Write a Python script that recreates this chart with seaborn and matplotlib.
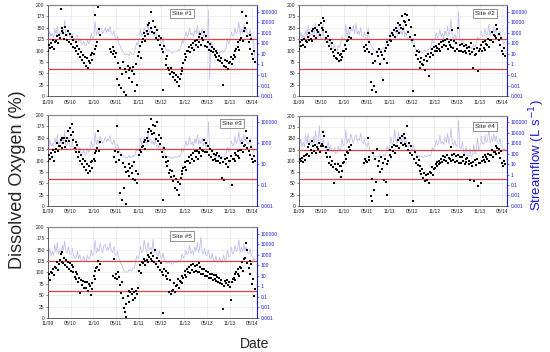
import numpy as np
import pandas as pd
import seaborn as sns
import matplotlib.pyplot as plt
import matplotlib.dates as mdates
from matplotlib.ticker import FixedLocator, NullLocator

nan = np.nan

# one row per month, Nov 2009 .. May 2014
months = pd.date_range('2009-11-01', '2014-05-01', freq='MS')
do_days = [4, 11, 18, 25]      # four DO readings per month
q_days = [5, 15, 25]           # three streamflow readings per month

# dissolved oxygen (%)
do_site1 = [
    [100, 112, 105, 116], [108, 122, 104, 118], [120, 131, 116, 135], [128, 190, 142, 150],
    [138, 126, 152, 133], [124, 142, 118, 136], [115, 130, 108, 124], [105, 118, 98, 110],
    [92, 104, 86, 96], [80, 90, 72, 86], [66, 84, 62, 78], [72, 90, 80, 95],
    [92, 178, 104, 110], [118, 195, 148, 135], [nan, nan, nan, nan], [nan, nan, nan, nan],
    [nan, nan, 104, 96], [108, 92, 100, 86], [95, 38, 72, 24], [62, 18, 48, 75],
    [8, 60, 2, 52], [66, 58, 40, 62], [55, 32, 63, 48], [12, 70, 25, 88],
    [96, 110, 84, 118], [126, 138, 120, 132], [142, 155, 136, 160], [150, 185, 140, 165],
    [138, 152, 128, 146], [122, 132, 112, 128], [104, 14, 96, 110], [82, 68, 88, 62],
    [58, 48, 62, 52], [42, 50, 36, 46], [30, 42, 22, 38], [48, 62, 55, 72],
    [80, 92, 86, 98], [100, 108, 96, 112], [106, 116, 102, 120], [112, 124, 108, 130],
    [118, 137, 112, 128], [124, 141, 110, 132], [108, 118, 102, 114], [100, 108, 96, 104],
    [90, 98, 86, 94], [80, 88, 76, 84], [72, 25, 66, 80], [64, 78, 60, 72],
    [74, 86, 70, 82], [90, 100, 86, 104], [108, 118, 102, 124], [128, 185, 120, 142],
    [150, 176, 132, 160], [118, 134, 104, 126], [92, 82, 98, 74],
]
do_site2 = [
    [104, 118, 110, 122], [112, 126, 108, 120], [118, 130, 122, 138], [126, 142, 120, 148],
    [132, 150, 128, 145], [140, 155, 135, 160], [150, 172, 145, 165], [128, 140, 118, 132],
    [110, 122, 104, 116], [96, 88, 102, 84], [82, 94, 76, 90], [80, 92, 86, 100],
    [98, 112, 104, 120], [122, 130, 150, 128], [nan, nan, nan, nan], [nan, nan, nan, nan],
    [nan, nan, nan, nan], [nan, 108, 98, 112], [104, 138, 96, 118], [30, 92, 14, 72],
    [22, 78, 10, 96], [88, 104, 70, 96], [90, 36, 82, 100], [106, 118, 72, 112],
    [124, 132, 120, 138], [135, 145, 130, 150], [142, 160, 138, 155], [150, 175, 148, 165],
    [162, 180, 155, 178], [140, 168, 130, 152], [122, 12, 110, 135], [90, 100, 82, 96],
    [75, 62, 84, 70], [68, 80, 58, 88], [76, 92, 45, 86], [95, 104, 90, 108],
    [100, 110, 98, 106], [104, 114, 100, 118], [108, 120, 112, 124], [110, 125, 104, 118],
    [112, 124, 108, 146], [106, 120, 100, 116], [104, 150, 98, 112], [100, 114, 96, 110],
    [98, 112, 94, 106], [100, 108, 92, 116], [96, 62, 104, 90], [92, 106, 55, 100],
    [104, 112, 98, 118], [106, 120, 102, 115], [112, 126, 108, 122], [124, 140, 118, 135],
    [132, 156, 128, 148], [122, 136, 112, 128], [100, 92, 106, 88],
]
do_site3 = [
    [98, 112, 104, 116], [108, 124, 100, 118], [126, 138, 120, 132], [132, 146, 128, 150],
    [138, 150, 130, 144], [150, 165, 142, 172], [156, 180, 145, 162], [128, 140, 118, 134],
    [108, 118, 100, 112], [92, 104, 86, 98], [80, 92, 72, 88], [76, 96, 84, 100],
    [104, 116, 98, 122], [128, 165, 120, 140], [nan, nan, nan, nan], [nan, nan, nan, nan],
    [nan, nan, nan, nan], [nan, nan, 108, 122], [96, 175, 118, 102], [28, 112, 12, 95],
    [40, 86, 4, 74], [78, 92, 66, 84], [72, 88, 60, 96], [58, 76, 50, 70],
    [112, 124, 118, 130], [132, 140, 126, 145], [150, 162, 144, 170], [165, 191, 158, 178],
    [160, 175, 148, 185], [142, 156, 136, 150], [118, 12, 108, 128], [96, 108, 88, 100],
    [72, 80, 64, 76], [54, 66, 40, 60], [35, 52, 25, 48], [62, 76, 70, 84],
    [86, 96, 80, 100], [98, 108, 94, 112], [104, 116, 100, 120], [108, 122, 104, 118],
    [116, 128, 110, 124], [122, 146, 118, 138], [118, 132, 112, 126], [108, 120, 102, 114],
    [104, 112, 98, 116], [100, 110, 94, 106], [62, 96, 56, 104], [92, 106, 86, 100],
    [98, 110, 45, 104], [104, 116, 100, 112], [110, 120, 106, 124], [124, 138, 118, 132],
    [134, 165, 128, 150], [120, 142, 112, 130], [104, 96, 110, 100],
]
do_site4 = [
    [96, 104, 100, 106], [98, 110, 102, 114], [116, 130, 110, 138], [124, 145, 118, 132],
    [122, 136, 118, 130], [126, 140, 120, 132], [138, 165, 132, 155], [118, 130, 108, 124],
    [96, 108, 90, 100], [86, 50, 92, 82], [80, 92, 76, 88], [65, 88, 78, 96],
    [98, 112, 104, 120], [118, 130, 124, 135], [nan, nan, nan, nan], [nan, nan, nan, nan],
    [nan, nan, nan, nan], [nan, 96, 104, 100], [98, 150, 102, 108], [22, 60, 12, 118],
    [35, 104, 54, 126], [88, 100, 76, 108], [82, 96, 58, 104], [52, 92, 25, 100],
    [112, 124, 108, 130], [122, 136, 118, 132], [132, 146, 128, 150], [140, 155, 135, 160],
    [138, 150, 132, 178], [124, 140, 118, 134], [112, 12, 104, 120], [96, 108, 90, 102],
    [78, 88, 70, 82], [62, 74, 55, 68], [58, 70, 50, 76], [74, 86, 68, 82],
    [84, 94, 88, 98], [92, 100, 96, 104], [98, 110, 102, 108], [100, 112, 96, 106],
    [104, 130, 100, 114], [102, 116, 98, 110], [100, 112, 96, 108], [96, 108, 100, 112],
    [94, 104, 98, 106], [92, 100, 58, 96], [88, 98, 55, 102], [90, 104, 45, 96],
    [96, 50, 100, 108], [102, 112, 98, 108], [104, 116, 100, 112], [112, 124, 108, 120],
    [120, 132, 116, 128], [118, 126, 106, 122], [96, 88, 100, 92],
]
do_site5 = [
    [88, 96, 84, 100], [98, 108, 94, 112], [110, 122, 106, 118], [128, 140, 124, 145],
    [120, 132, 116, 128], [112, 124, 108, 120], [104, 116, 100, 112], [90, 102, 85, 96],
    [78, 88, 55, 84], [72, 82, 66, 78], [66, 78, 60, 74], [70, 50, 76, 64],
    [92, 104, 86, 110], [112, 125, 106, 118], [nan, nan, nan, nan], [nan, nan, nan, nan],
    [nan, nan, nan, nan], [nan, 92, 130, 88], [96, 86, 100, 90], [72, 54, 80, 44],
    [22, 12, 30, 2], [48, 60, 36, 56], [52, 64, 40, 58], [44, 60, 52, 66],
    [104, 116, 98, 122], [120, 130, 116, 126], [128, 138, 122, 134], [130, 142, 126, 136],
    [124, 150, 118, 132], [112, 126, 106, 120], [100, 10, 94, 108], [92, 104, 86, 98],
    [56, 84, 52, 60], [62, 76, 58, 70], [72, 86, 66, 82], [80, 92, 76, 88],
    [94, 104, 90, 108], [102, 112, 98, 116], [106, 118, 102, 114], [104, 116, 100, 120],
    [100, 112, 96, 108], [96, 108, 92, 104], [92, 100, 88, 96], [88, 96, 84, 94],
    [86, 94, 82, 90], [80, 88, 76, 84], [74, 20, 70, 82], [76, 84, 72, 80],
    [68, 40, 78, 86], [88, 96, 84, 100], [96, 108, 92, 112], [110, 124, 104, 130],
    [132, 165, 120, 150], [110, 126, 96, 118], [74, 86, 48, 64],
]

# streamflow (L/s)
q_site1 = [
    [300, 1500, 400], [800, 350, 2500], [600, 4000, 500], [1200, 700, 3000], [900, 15000, 600],
    [500, 2000, 400], [350, 800, 250], [200, 150, 600], [120, 300, 100], [80, 150, 60],
    [60, 200, 90], [150, 900, 300], [400, 12000, 600], [1500, 700, 3000], [2000, 800, 1500],
    [3000, 1000, 2500], [1200, 4000, 900], [600, 1500, 400], [200, 500, 100], [60, 30, 20],
    [12, 8, 10], [9, 6, 15], [10, 8, 12], [30, 120, 60], [300, 2000, 500],
    [800, 3000, 1500], [600, 8000, 1000], [2000, 700, 1200], [500, 1500, 300], [200, 600, 150],
    [100, 400, 60], [30, 20, 25], [15, 18, 12], [14, 20, 16], [18, 25, 20],
    [40, 200, 100], [300, 1200, 400], [700, 3000, 600], [1000, 400, 2000], [800, 5000, 600],
    [1500, 600, 2500], [400, 1000, 300], [600, 140000, 0.04], [150, 60, 40], [25, 15, 20],
    [15, 12, 18], [20, 15, 25], [40, 300, 80], [200, 1200, 500], [600, 3000, 800],
    [1500, 10000, 700], [2500, 900, 6000], [1000, 3000, 800], [600, 2000, 400], [250, 100, 2],
]
q_site2 = [
    [250, 1200, 300], [600, 250, 2000], [400, 5000, 350], [1000, 500, 3000], [700, 8000, 500],
    [400, 1500, 300], [250, 6000, 200], [150, 100, 300], [60, 150, 40], [30, 80, 25],
    [20, 60, 40], [100, 500, 200], [300, 6000, 400], [2000, 600, 2500], [1500, 5000, 800],
    [8000, 700, 1500], [600, 3000, 500], [400, 1200, 300], [200, 3000, 150], [80, 40, 30],
    [20, 15, 25], [15, 30, 20], [25, 40, 30], [60, 300, 150], [250, 1500, 400],
    [600, 2500, 1000], [500, 6000, 800], [1500, 600, 5000], [400, 1200, 300], [200, 500, 150],
    [100, 300, 50], [25, 20, 30], [15, 20, 12], [18, 25, 15], [20, 30, 25],
    [60, 200, 100], [250, 1000, 350], [500, 2000, 400], [800, 300, 1500], [600, 4000, 500],
    [1000, 20000, 400], [300, 800, 250], [500, 100000, 200], [150, 300, 100], [80, 50, 60],
    [40, 60, 30], [50, 80, 40], [100, 400, 200], [300, 1500, 400], [500, 2500, 600],
    [800, 6000, 500], [1500, 700, 4000], [900, 2500, 600], [500, 1500, 300], [200, 80, 150],
]
q_site3 = [
    [300, 2000, 500], [900, 400, 3000], [700, 6000, 600], [1500, 800, 4000], [1000, 12000, 700],
    [600, 2500, 500], [400, 1500, 300], [250, 200, 800], [150, 400, 120], [100, 200, 80],
    [90, 300, 120], [200, 1500, 400], [500, 10000, 700], [2000, 800, 4000], [1800, 900, 1500],
    [3500, 1200, 2500], [1500, 5000, 1000], [700, 2000, 500], [300, 800, 200], [120, 80, 60],
    [50, 40, 45], [35, 60, 40], [40, 70, 50], [80, 300, 150], [400, 2500, 600],
    [900, 4000, 1500], [700, 9000, 1200], [2500, 800, 1500], [600, 2000, 400], [300, 800, 200],
    [150, 500, 100], [60, 45, 50], [40, 45, 35], [35, 50, 40], [40, 60, 45],
    [80, 300, 150], [400, 1500, 500], [800, 4000, 700], [1200, 500, 2500], [900, 6000, 700],
    [1800, 800, 3000], [500, 1200, 400], [700, 100000, 300], [200, 100, 80], [50, 40, 45],
    [40, 35, 50], [45, 40, 60], [90, 400, 150], [300, 1500, 600], [700, 4000, 900],
    [1800, 12000, 800], [3000, 1000, 7000], [1200, 3500, 900], [700, 2500, 500], [300, 150, 200],
]
q_site4 = [
    [400, 2500, 500], [1200, 500, 6000], [900, 8000, 700], [2000, 900, 5000], [1000, 15000, 800],
    [700, 50000, 600], [500, 3000, 400], [300, 250, 1500], [200, 600, 150], [150, 400, 100],
    [120, 500, 200], [300, 3000, 600], [800, 20000, 1000], [3000, 1200, 8000], [2500, 1000, 4000],
    [6000, 1500, 3000], [2000, 9000, 1500], [900, 3000, 700], [400, 1500, 300], [150, 100, 80],
    [60, 50, 55], [45, 80, 50], [50, 90, 60], [100, 500, 200], [600, 4000, 800],
    [1200, 20000, 2000], [1000, 12000, 1500], [3000, 1000, 6000], [800, 2500, 600], [400, 1200, 300],
    [200, 700, 150], [80, 60, 70], [50, 60, 45], [45, 70, 55], [50, 80, 60],
    [100, 400, 200], [500, 2000, 700], [1000, 6000, 900], [1500, 700, 4000], [1200, 9000, 900],
    [2500, 30000, 1000], [700, 2000, 500], [900, 150000, 400], [300, 1500, 150], [80, 500, 70],
    [60, 300, 50], [70, 800, 90], [150, 3000, 250], [400, 5000, 800], [900, 6000, 1200],
    [2000, 30000, 1000], [4000, 1500, 8000], [1500, 5000, 1200], [900, 3000, 700], [400, 200, 300],
]
q_site5 = [
    [500, 4000, 800], [2000, 900, 10000], [1500, 15000, 1200], [3000, 1500, 8000], [2500, 20000, 1800],
    [1500, 6000, 1200], [1000, 4000, 800], [600, 500, 2000], [400, 1000, 300], [300, 700, 250],
    [250, 900, 400], [500, 3000, 900], [1200, 25000, 1500], [4000, 2000, 12000], [3500, 1500, 8000],
    [10000, 2500, 5000], [3000, 15000, 2500], [1500, 6000, 1000], [800, 2000, 500], [200, 120, 60],
    [30, 20, 25], [20, 40, 30], [30, 60, 50], [150, 800, 400], [1000, 6000, 1500],
    [2500, 25000, 4000], [2000, 15000, 3000], [5000, 2000, 30000], [1500, 4000, 1000], [800, 2500, 600],
    [400, 1500, 300], [200, 150, 250], [150, 200, 120], [150, 250, 180], [200, 300, 250],
    [300, 1200, 500], [800, 3000, 1000], [1500, 8000, 1200], [2500, 1000, 6000], [2000, 15000, 1500],
    [4000, 50000, 2000], [1200, 4000, 900], [800, 3000, 500], [400, 1500, 300], [250, 800, 200],
    [200, 600, 180], [220, 1000, 250], [400, 3000, 600], [800, 5000, 1200], [1500, 8000, 2000],
    [3000, 25000, 1500], [5000, 2000, 10000], [2000, 6000, 1500], [1200, 4000, 900], [600, 300, 500],
]

site_names = ['Site #1', 'Site #2', 'Site #3', 'Site #4', 'Site #5']
do_all = [do_site1, do_site2, do_site3, do_site4, do_site5]
q_all = [q_site1, q_site2, q_site3, q_site4, q_site5]

do_dates = [m + pd.Timedelta(days=d - 1) for m in months for d in do_days]
q_dates = [m + pd.Timedelta(days=d - 1) for m in months for d in q_days]
date_ticks = pd.date_range('2009-11-01', '2014-05-01', freq='6MS')

q_ticks_full = [0.001, 0.01, 0.1, 1, 10, 100, 1000, 10000, 100000]
q_ticks_half = [0.001, 0.1, 10, 1000, 100000]

sns.set_style('white')
plt.rcParams['font.family'] = ['Liberation Sans', 'DejaVu Sans']

fig = plt.figure(figsize=(5.5, 3.52), dpi=100)

# panel rectangles in figure fraction (left, bottom, width, height)
rects = [
    (0.0873, 0.727, 0.380, 0.259),
    (0.5436, 0.727, 0.378, 0.259),
    (0.0873, 0.415, 0.380, 0.258),
    (0.5436, 0.415, 0.378, 0.256),
    (0.0873, 0.097, 0.380, 0.258),
]
label_pos = [(0.64, 0.905), (0.894, 0.905), (0.88, 0.905), (0.894, 0.88), (0.64, 0.9)]
blue = '#1a1ad0'
red = '#dd4444'

for i in range(5):
    ax = fig.add_axes(rects[i])
    tw = ax.twinx()

    sns.lineplot(x=q_dates, y=np.array(q_all[i], dtype=float).ravel(), ax=tw,
                 color='#8c8ce0', lw=0.6, alpha=0.55)
    tw.set_yscale('log')
    tw.set_ylim(0.001, 4.3e5)

    sns.scatterplot(x=do_dates, y=np.array(do_all[i], dtype=float).ravel(), ax=ax,
                    color='black', s=4.5, marker='s', linewidth=0, zorder=4)
    ax.axhline(125, color=red, lw=0.9, zorder=3)
    ax.axhline(60, color=red, lw=0.9, zorder=3)

    ax.set_zorder(tw.get_zorder() + 1)
    ax.patch.set_visible(False)

    ax.set_xlim(pd.Timestamp('2009-11-01'), pd.Timestamp('2014-06-10'))
    ax.set_ylim(0, 200)
    ax.set_yticks(range(0, 201, 25))
    ax.set_xticks(date_ticks)
    ax.xaxis.set_major_formatter(mdates.DateFormatter('%m/%y'))
    ax.grid(True, color='#e4e4e4', lw=0.4)
    ax.set_xlabel('')
    ax.set_ylabel('')
    ax.tick_params(labelsize=3.6, length=1.5, width=0.4, pad=1)

    ticks = q_ticks_half if i == 2 else q_ticks_full
    tw.yaxis.set_major_locator(FixedLocator(ticks))
    tw.yaxis.set_minor_locator(NullLocator())
    tw.set_yticklabels([f'{t:g}' if t < 1 else f'{int(t)}' for t in ticks])
    tw.tick_params(labelsize=3.6, length=1.5, width=0.4, pad=1, colors=blue)
    tw.set_ylabel('')

    for s in ['left', 'bottom']:
        ax.spines[s].set_color('#444444')
        ax.spines[s].set_linewidth(0.6)
    ax.spines['top'].set_color('#888888')
    ax.spines['top'].set_linewidth(0.9)
    ax.spines['right'].set_visible(False)
    tw.spines['right'].set_color(blue)
    tw.spines['right'].set_linewidth(0.8)
    for s in ['left', 'top', 'bottom']:
        tw.spines[s].set_visible(False)

    lx, ly = label_pos[i]
    ax.text(lx, ly, site_names[i], transform=ax.transAxes, fontsize=4.6,
            ha='center', va='center', zorder=5,
            bbox=dict(boxstyle='square,pad=0.35', fc='white', ec='#666666', lw=0.5))

fig.text(0.031, 0.49, 'Dissolved Oxygen (%)', rotation=90, fontsize=13,
         ha='center', va='center')
fig.text(0.977, 0.56, 'Streamflow (L s$^{-1}$)', rotation=90, fontsize=9.5,
         ha='center', va='center', color=blue)
fig.text(0.462, 0.024, 'Date', fontsize=10, ha='center', va='center')

fig.savefig('out.png', dpi=100)
